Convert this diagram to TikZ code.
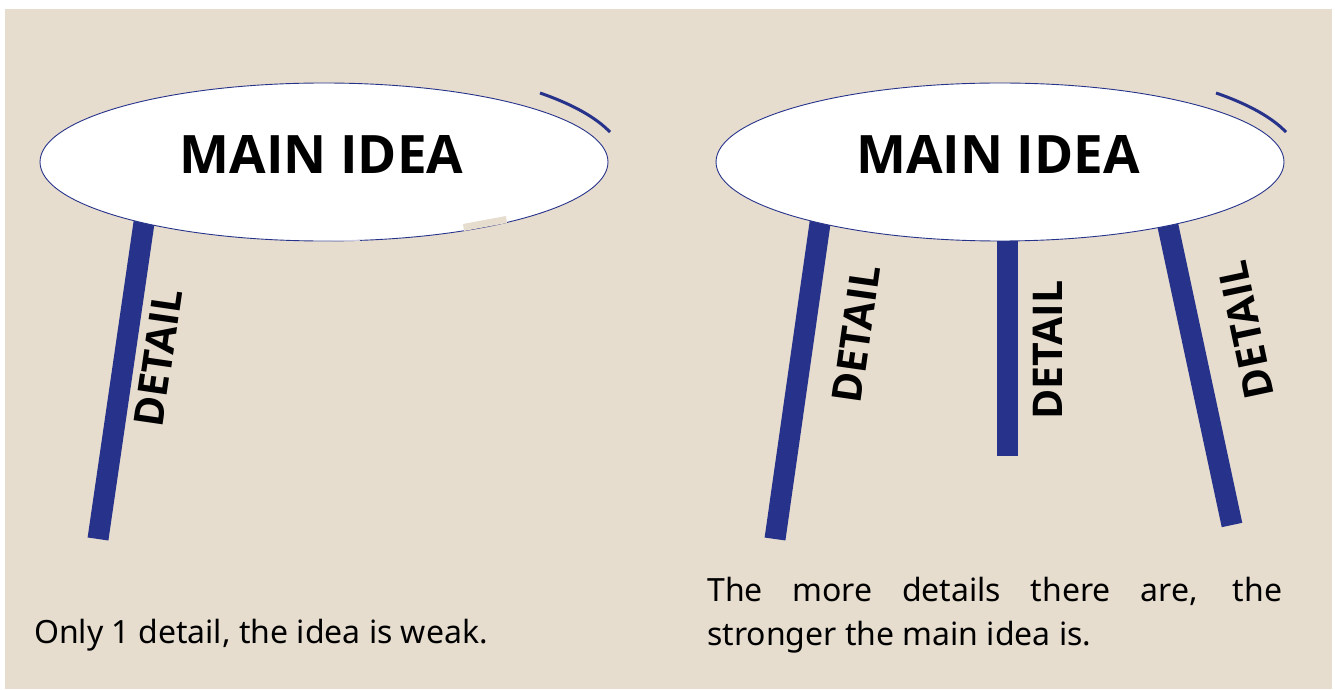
\documentclass[tikz,border=0pt]{standalone}
\usepackage{fontspec}
\usetikzlibrary{shapes.geometric}
\newfontfamily\headfont{Open Sans}
\newfontfamily\bodyfont{Noto Sans}
\definecolor{beige}{HTML}{E7DDCF}
\definecolor{legblue}{HTML}{27338A}
\begin{document}
\begin{tikzpicture}[x=1pt,y=1pt,
  leg/.style={draw=legblue, line width=21pt, line cap=butt},
  idea/.style={ellipse, draw=legblue, line width=0.9pt, fill=white,
    minimum width=568pt, minimum height=158pt, inner sep=0pt},
  ideatext/.style={font=\headfont\bfseries\fontsize{53}{53}\selectfont, inner sep=0pt, anchor=base},
  detail/.style={font=\headfont\bfseries\fontsize{41}{41}\selectfont, inner sep=0pt},
  body/.style={font=\bodyfont\fontsize{32}{36}\selectfont, inner sep=0pt, anchor=base west},
  swoosh/.style={draw=legblue, line width=3pt}]
\useasboundingbox (0,0) rectangle (1335,689);
\fill[white] (0,0) rectangle (1335,689);
\fill[beige] (5,0) rectangle (1332,680);
% leg end points
\coordinate (l1t) at (147.3,489);
\coordinate (l1b) at (98,150);
\coordinate (l2t) at (823.3,489);
\coordinate (l2b) at (775,150);
\coordinate (l3t) at (1007.5,489);
\coordinate (l3b) at (1007.5,233);
\coordinate (l4t) at (1162.4,489);
\coordinate (l4b) at (1232,164);
\draw[leg] (l1t) -- (l1b);
\draw[leg] (l2t) -- (l2b);
\draw[leg] (l3t) -- (l3b);
\draw[leg] (l4t) -- (l4b);
% ellipses
\node[idea] (e1) at (324,527) {};
\node[idea] (e2) at (1000,527) {};
\fill[beige] (463,465) -- (506,473) -- (507,466) -- (464,458) -- cycle;
\draw[legblue!25, line width=1pt] (313,448) -- (360,448.6);
% swooshes
\coordinate (s1) at (540,596);
\coordinate (s2) at (1216,596);
\draw[swoosh] (s1) arc[start angle=43.9, end angle=17.5, x radius=300, y radius=99.5];
\draw[swoosh] (s2) arc[start angle=43.9, end angle=17.5, x radius=300, y radius=99.5];
% texts
\node[ideatext] (t1) at (321.5,515.5) {MAIN IDEA};
\node[ideatext] (t2) at (998,515) {MAIN IDEA};
\node[detail, rotate=81.7] (d1) at (158,331) {DETAIL};
\node[detail, rotate=81.9] (d2) at (856,355) {DETAIL};
\node[detail, rotate=90] (d3) at (1048,339) {DETAIL};
\node[detail, rotate=102] (d4) at (1246,359) {DETAIL};
\node[body] (b1) at (34,46) {Only 1 detail, the idea is weak.};
\node[body] (b2) at (707,88) {\makebox[575pt][s]{The more details there are, the}};
\node[body] (b3) at (707,44) {stronger the main idea is.};
\end{tikzpicture}
\end{document}
